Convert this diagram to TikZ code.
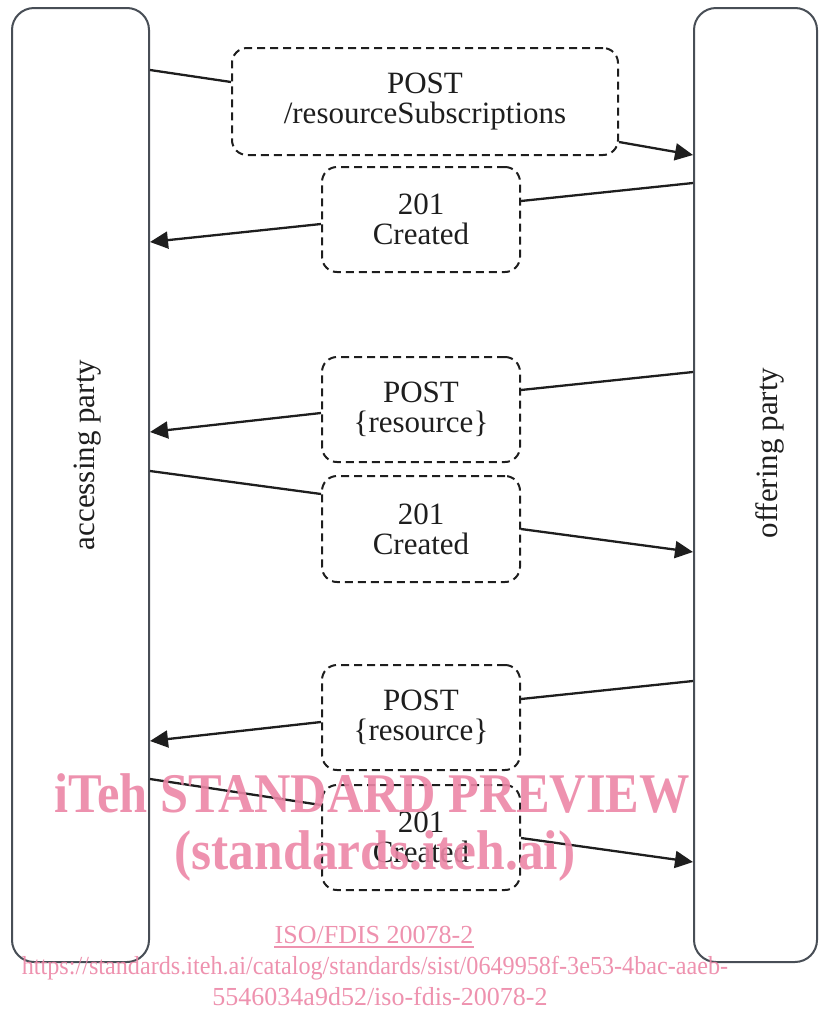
\documentclass[tikz,border=0pt]{standalone}
\usepackage{fontspec}
\setmainfont{Liberation Serif}
\usetikzlibrary{arrows.meta}
\definecolor{partyline}{RGB}{72,78,86}
\definecolor{ink}{RGB}{30,30,30}
\definecolor{wm}{RGB}{236,134,166}
\tikzset{
  party/.style={draw=partyline, line width=2pt, rounded corners=22pt, fill=white, inner sep=0pt},
  msgbox/.style={draw=ink, line width=2pt, dash pattern=on 8pt off 5pt, rounded corners=15pt, inner sep=0pt, align=center, font=\fontsize{31}{30}\selectfont, text=ink},
  conn/.style={draw=ink, line width=2.3pt},
  arr/.style={conn, -{Triangle[length=18pt,width=17pt]}},
  partylabel/.style={font=\fontsize{31}{31}\selectfont, rotate=90, text=ink},
  wmbig/.style={font=\bfseries\fontsize{56}{56}\selectfont, text=wm, text opacity=0.9, inner sep=0pt, anchor=base},
  wmsmall/.style={font=\fontsize{26}{26}\selectfont, text=wm, text opacity=0.9, inner sep=0pt, anchor=base}
}
\begin{document}
\begin{tikzpicture}[x=1pt,y=-1pt]
\useasboundingbox (0,0) rectangle (819,1010);
% parties
\node[party, minimum width=137pt, minimum height=954pt] (L) at (80.5,485) {};
\node[party, minimum width=123pt, minimum height=954pt] (R) at (755.5,485) {};
\node[partylabel] (Ltxt) at (88,455) {accessing party};
\node[partylabel] (Rtxt) at (770,453) {offering party};
% message boxes
\node[msgbox, minimum width=386pt, minimum height=107pt] (b1) at (425,101.5) {POST\\/resourceSubscriptions};
\node[msgbox, minimum width=198pt, minimum height=105pt] (b2) at (421,219.5) {201\\Created};
\node[msgbox, minimum width=198pt, minimum height=105pt] (b3) at (421,409.5) {POST\\\{resource\}};
\node[msgbox, minimum width=198pt, minimum height=106pt] (b4) at (421,529) {201\\Created};
\node[msgbox, minimum width=198pt, minimum height=105pt] (b5) at (421,717.5) {POST\\\{resource\}};
\node[msgbox, minimum width=198pt, minimum height=105pt] (b6) at (421,837.5) {201\\Created};
% connectors
\draw[conn] (L.east|-0,70) -- (b1.west|-0,82);
\draw[arr] (b1.east|-0,142) -- (R.west|-0,155);
\draw[conn] (R.west|-0,183) -- (b2.east|-0,201);
\draw[arr] (b2.west|-0,224) -- (L.east|-0,242);
\draw[conn] (R.west|-0,372) -- (b3.east|-0,390);
\draw[arr] (b3.west|-0,413) -- (L.east|-0,432);
\draw[conn] (L.east|-0,471) -- (b4.west|-0,494);
\draw[arr] (b4.east|-0,529) -- (R.west|-0,552);
\draw[conn] (R.west|-0,681) -- (b5.east|-0,699);
\draw[arr] (b5.west|-0,722) -- (L.east|-0,741);
\draw[conn] (L.east|-0,779) -- (b6.west|-0,805);
\draw[arr] (b6.east|-0,838) -- (R.west|-0,862);
% watermark
\node[wmbig, xscale=0.9] (w1) at (372,812) {iTeh STANDARD PREVIEW};
\node[wmbig, xscale=0.92] (w2) at (375,869) {(standards.iteh.ai)};
\node[wmsmall] (w3) at (374,943) {ISO/FDIS 20078-2};
\draw[wm, line width=1.2pt, opacity=0.9] (w3.south west|-0,947) -- (w3.south east|-0,947);
\node[wmsmall, xscale=0.93] (w4) at (375,974) {https://standards.iteh.ai/catalog/standards/sist/0649958f-3e53-4bac-aaeb-};
\node[wmsmall] (w5) at (380,1005) {5546034a9d52/iso-fdis-20078-2};
\end{tikzpicture}
\end{document}
